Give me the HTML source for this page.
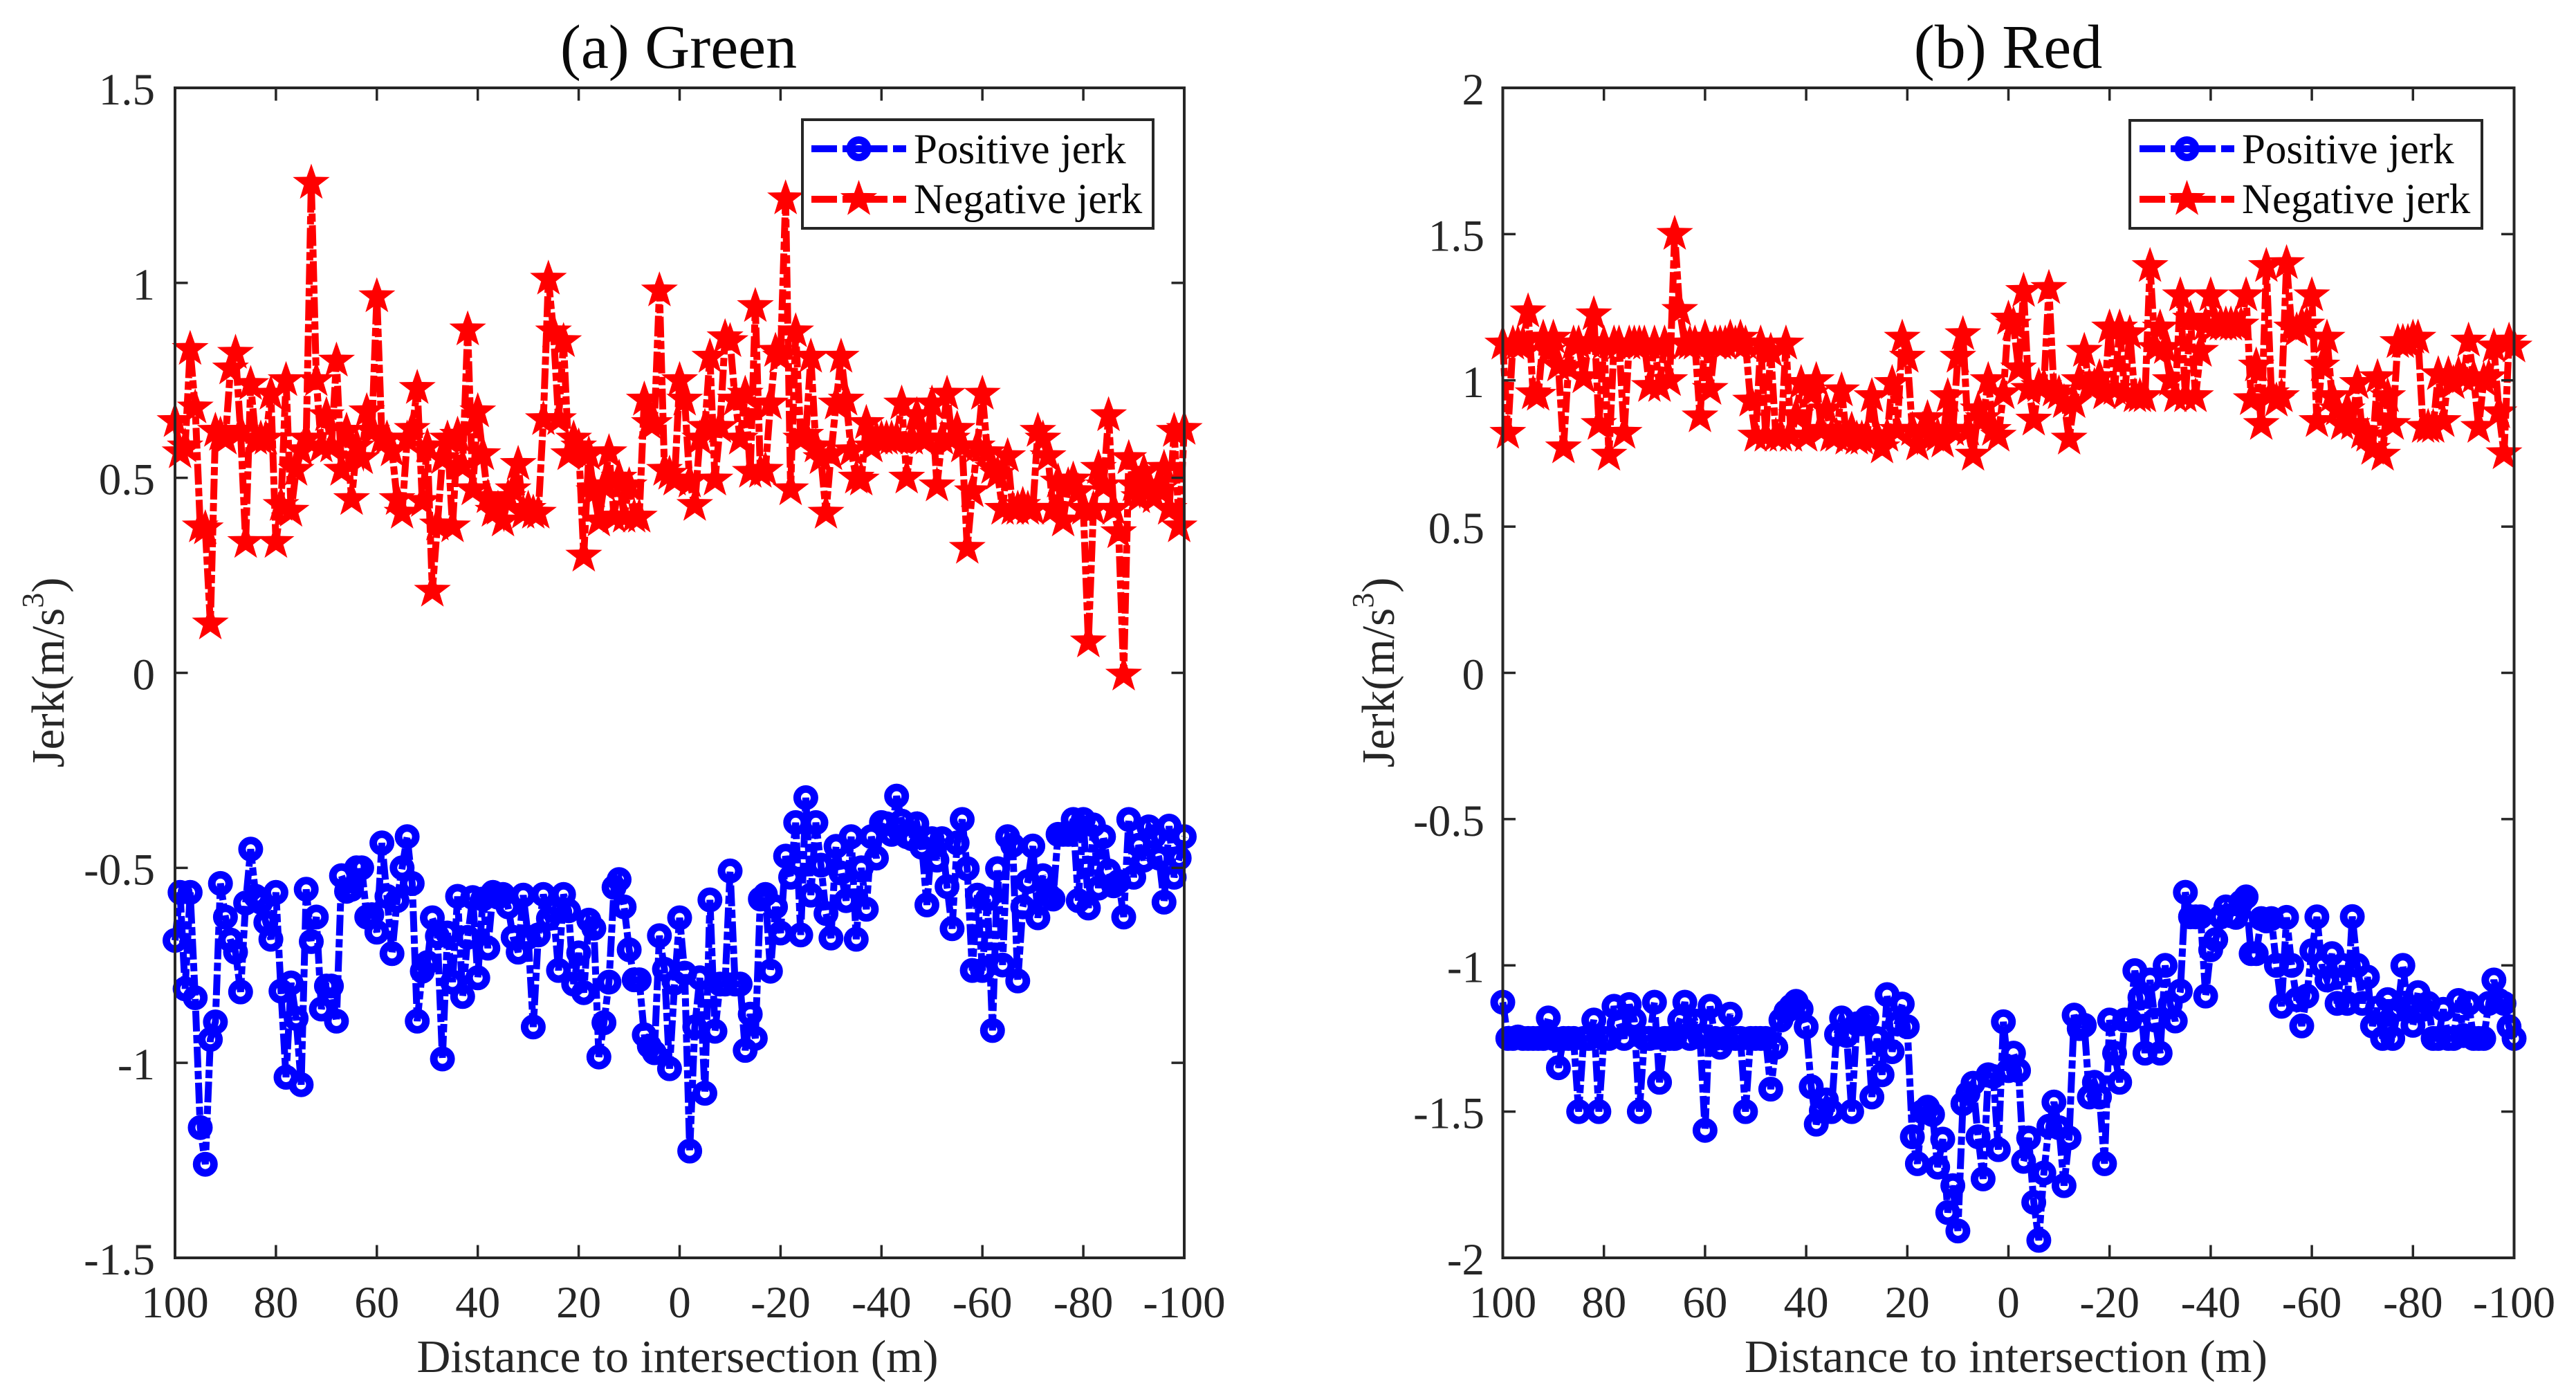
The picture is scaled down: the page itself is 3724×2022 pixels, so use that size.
<!DOCTYPE html>
<html lang="en">
<head>
<meta charset="utf-8">
<title>Jerk vs distance to intersection</title>
<style>
html,body{margin:0;padding:0;background:#fff;}
svg{display:block;font-family:"Liberation Serif","Times New Roman",serif;}
.tick-label{font-size:65px;fill:#262626;}
.axis-title{font-size:67px;fill:#262626;}
.panel-title{font-size:90px;fill:#0a0a0a;text-anchor:middle;}
.legend-text{font-size:61px;fill:#0a0a0a;}
</style>
</head>
<body>
<svg id="chart" xmlns="http://www.w3.org/2000/svg" width="3724" height="2022" viewBox="0 0 3724 2022">
  <rect x="0" y="0" width="3724" height="2022" fill="#ffffff"/>

  <g id="panel-a">
    <text class="panel-title" x="981" y="98">(a) Green</text>
    <g id="series-a"></g>
    <rect x="253" y="127" width="1459" height="1691" fill="none" stroke="#262626" stroke-width="4"/>
    <g id="ticks-a"></g>
    <text class="axis-title" x="979.5" y="1983" text-anchor="middle" textLength="754" lengthAdjust="spacingAndGlyphs">Distance to intersection (m)</text>
    <text class="axis-title" transform="translate(92 972) rotate(-90)" text-anchor="middle">Jerk(m/s<tspan font-size="44" dy="-30">3</tspan><tspan dy="30">)</tspan></text>
    <g id="legend-a">
      <rect x="1160" y="173" width="507" height="157" fill="#ffffff" stroke="#262626" stroke-width="4"/>
      <text class="legend-text" x="1321" y="236">Positive jerk</text>
      <text class="legend-text" x="1321" y="308">Negative jerk</text>
    </g>
  </g>

  <g id="panel-b">
    <text class="panel-title" x="2903" y="98">(b) Red</text>
    <g id="series-b"></g>
    <rect x="2172.5" y="127" width="1462" height="1691" fill="none" stroke="#262626" stroke-width="4"/>
    <g id="ticks-b"></g>
    <text class="axis-title" x="2900" y="1983" text-anchor="middle" textLength="756" lengthAdjust="spacingAndGlyphs">Distance to intersection (m)</text>
    <text class="axis-title" transform="translate(2015 972) rotate(-90)" text-anchor="middle">Jerk(m/s<tspan font-size="44" dy="-30">3</tspan><tspan dy="30">)</tspan></text>
    <g id="legend-b">
      <rect x="3079" y="174" width="509" height="156" fill="#ffffff" stroke="#262626" stroke-width="4"/>
      <text class="legend-text" x="3241" y="236">Positive jerk</text>
      <text class="legend-text" x="3241" y="308">Negative jerk</text>
    </g>
  </g>
</svg>

<script>
const distances = [
100,99,98,97,96,95,94,93,92,91,
90,89,88,87,86,85,84,83,82,81,
80,79,78,77,76,75,74,73,72,71,
70,69,68,67,66,65,64,63,62,61,
60,59,58,57,56,55,54,53,52,51,
50,49,48,47,46,45,44,43,42,41,
40,39,38,37,36,35,34,33,32,31,
30,29,28,27,26,25,24,23,22,21,
20,19,18,17,16,15,14,13,12,11,
10,9,8,7,6,5,4,3,2,1,
0,
-1,-2,-3,-4,-5,-6,-7,-8,-9,-10,
-11,-12,-13,-14,-15,-16,-17,-18,-19,-20,
-21,-22,-23,-24,-25,-26,-27,-28,-29,-30,
-31,-32,-33,-34,-35,-36,-37,-38,-39,-40,
-41,-42,-43,-44,-45,-46,-47,-48,-49,-50,
-51,-52,-53,-54,-55,-56,-57,-58,-59,-60,
-61,-62,-63,-64,-65,-66,-67,-68,-69,-70,
-71,-72,-73,-74,-75,-76,-77,-78,-79,-80,
-81,-82,-83,-84,-85,-86,-87,-88,-89,-90,
-91,-92,-93,-94,-95,-96,-97,-98,-99,-100];

const greenPositiveJerk = [
-.686,-.563,-.81,-.563,-.833,-1.166,-1.26,-.94,-.895,-.54,
-.626,-.685,-.716,-.818,-.59,-.452,-.573,-.588,-.64,-.683,
-.563,-.816,-1.037,-.795,-.886,-1.056,-.555,-.689,-.626,-.862,
-.803,-.803,-.893,-.52,-.56,-.555,-.50,-.50,-.626,-.62,
-.665,-.436,-.573,-.72,-.584,-.50,-.42,-.54,-.893,-.765,
-.743,-.628,-.675,-.99,-.667,-.793,-.573,-.83,-.678,-.576,
-.782,-.58,-.706,-.563,-.575,-.568,-.60,-.678,-.716,-.57,
-.678,-.908,-.672,-.568,-.63,-.61,-.763,-.568,-.61,-.798,
-.718,-.82,-.634,-.655,-.985,-.897,-.793,-.55,-.53,-.6,
-.71,-.787,-.787,-.928,-.957,-.974,-.674,-.76,-1.015,-.795,
-.628,
-.77,-1.226,-.908,-.782,-1.078,-.582,-.919,-.798,-.798,-.508,
-.798,-.798,-.968,-.875,-.937,-.58,-.568,-.765,-.60,-.667,
-.47,-.524,-.384,-.672,-.32,-.57,-.384,-.493,-.617,-.68,
-.445,-.513,-.584,-.42,-.683,-.50,-.606,-.42,-.475,-.384,
-.387,-.414,-.316,-.38,-.42,-.425,-.387,-.447,-.595,-.425,
-.48,-.425,-.548,-.656,-.436,-.376,-.502,-.763,-.57,-.763,
-.58,-.917,-.502,-.749,-.42,-.442,-.79,-.6,-.535,-.444,
-.628,-.52,-.568,-.58,-.414,-.414,-.414,-.376,-.584,-.376,
-.603,-.39,-.552,-.42,-.508,-.546,-.535,-.626,-.376,-.524,
-.442,-.48,-.395,-.42,-.475,-.588,-.393,-.524,-.475,-.42];

const greenNegativeJerk = [
.645,.565,.58,.83,.68,.375,.37,.126,.62,.61,
.60,.78,.82,.62,.335,.74,.6,.6,.6,.715,
.335,.43,.75,.415,.52,.57,.6,1.256,.75,.58,
.66,.58,.8,.52,.62,.445,.58,.55,.67,.62,
.965,.6,.6,.57,.445,.41,.6,.625,.73,.44,
.58,.21,.38,.55,.6,.375,.61,.53,.88,.47,
.67,.56,.45,.415,.42,.39,.45,.47,.535,.41,
.42,.41,.41,.65,1.01,.875,.65,.85,.56,.6,
.58,.30,.56,.465,.39,.48,.565,.4,.5,.4,
.48,.4,.4,.70,.64,.64,.98,.52,.51,.495,
.75,
.70,.49,.43,.6,.63,.81,.495,.63,.86,.85,
.70,.6,.715,.515,.94,.515,.52,.69,.825,.81,
1.216,.47,.875,.6,.61,.81,.58,.55,.41,.56,
.69,.81,.70,.57,.5,.495,.64,.58,.6,.6,
.6,.6,.6,.69,.50,.6,.66,.6,.6,.69,
.48,.6,.715,.6,.625,.58,.32,.465,.58,.715,
.565,.525,.51,.42,.555,.42,.42,.43,.42,.42,
.62,.6,.555,.42,.49,.39,.48,.495,.465,.42,
.08,.42,.525,.48,.66,.42,.36,-.005,.55,.48,
.45,.515,.48,.45,.47,.525,.42,.62,.375,.625];

const redPositiveJerk = [
-1.126,-1.25,-1.25,-1.245,-1.25,-1.25,-1.25,-1.25,-1.25,-1.18,
-1.25,-1.35,-1.25,-1.25,-1.25,-1.5,-1.25,-1.25,-1.187,-1.5,
-1.25,-1.25,-1.14,-1.2,-1.25,-1.134,-1.187,-1.5,-1.25,-1.25,
-1.126,-1.4,-1.25,-1.25,-1.25,-1.187,-1.126,-1.25,-1.19,-1.245,
-1.564,-1.14,-1.25,-1.28,-1.25,-1.167,-1.25,-1.25,-1.5,-1.25,
-1.25,-1.25,-1.25,-1.423,-1.28,-1.187,-1.158,-1.14,-1.123,-1.15,
-1.21,-1.415,-1.543,-1.497,-1.46,-1.5,-1.236,-1.18,-1.24,-1.5,
-1.2,-1.2,-1.18,-1.45,-1.25,-1.374,-1.1,-1.295,-1.2,-1.132,
-1.21,-1.586,-1.678,-1.5,-1.485,-1.51,-1.69,-1.594,-1.845,-1.753,
-1.908,-1.473,-1.438,-1.403,-1.586,-1.73,-1.374,-1.38,-1.63,-1.193,
-1.36,
-1.3,-1.36,-1.67,-1.59,-1.81,-1.94,-1.71,-1.55,-1.467,-1.555,
-1.753,-1.59,-1.17,-1.216,-1.205,-1.45,-1.40,-1.45,-1.678,-1.187,
-1.30,-1.40,-1.187,-1.187,-1.018,-1.11,-1.30,-1.05,-1.187,-1.30,
-1.0,-1.134,-1.19,-1.088,-.75,-.834,-.834,-.834,-1.105,-.947,
-.912,-.834,-.80,-.83,-.836,-.784,-.766,-.96,-.96,-.84,
-.848,-.84,-1.0,-1.14,-.836,-1.0,-1.117,-1.207,-1.105,-.95,
-.834,-1.0,-1.05,-.96,-1.13,-1.0,-1.13,-.833,-1.0,-1.13,
-1.04,-1.207,-1.146,-1.25,-1.117,-1.25,-1.15,-1.0,-1.146,-1.205,
-1.093,-1.15,-1.13,-1.25,-1.25,-1.15,-1.25,-1.25,-1.12,-1.24,
-1.13,-1.25,-1.25,-1.25,-1.13,-1.05,-1.12,-1.13,-1.21,-1.25];

const redNegativeJerk = [
1.125,.82,1.125,1.125,1.125,1.235,.955,.95,1.145,1.1,
1.145,1.05,.77,1.045,1.125,1.125,1.01,1.13,1.225,.85,
1.125,.745,1.125,1.125,.82,1.125,1.125,1.125,1.125,.98,
1.125,.98,1.125,1.0,1.5,1.24,1.125,1.125,1.125,.876,
1.145,.97,1.125,1.125,1.125,1.145,1.125,1.145,1.125,.93,
.81,1.125,.81,1.1,.81,.81,1.125,.81,.88,.99,
.81,.955,1.0,.83,.90,.81,.81,.965,.8,.83,
.8,.8,.81,.945,.81,.77,.81,.99,.83,1.145,
1.08,.83,.78,.83,.87,.81,.81,.79,.945,.83,
1.08,1.157,.83,.745,.90,.87,1.0,.83,.81,.955,
1.21,
1.19,1.04,1.305,.97,.865,.98,.98,1.315,.965,.955,
.925,.80,.925,1.0,1.1,.98,.98,1.01,.955,1.18,
.97,1.18,.955,1.16,.945,.945,.945,1.39,1.11,1.18,
1.11,1.0,.945,1.29,.945,1.21,.945,1.1,1.19,1.29,
1.19,1.19,1.19,1.19,1.19,1.19,1.29,.935,1.05,.85,
1.39,.955,.93,.945,1.40,1.18,1.17,1.19,1.19,1.29,
.86,1.05,1.145,.945,.9,.85,.9,.85,.99,.82,
.81,.765,1.01,.745,.945,.85,1.13,1.13,1.13,1.145,
1.145,.84,.84,.84,1.02,.86,1.02,.99,1.02,1.01,
1.135,1.01,.84,1.0,1.01,1.115,.89,.75,1.135,1.115];

const xTickValues = [100,80,60,40,20,0,-20,-40,-60,-80,-100];
const greenYTicks = [1.5,1,0.5,0,-0.5,-1,-1.5];
const redYTicks = [2,1.5,1,0.5,0,-0.5,-1,-1.5,-2];

const SVG_NS = 'http://www.w3.org/2000/svg';

function make(tag, attrs, parent) {
  const el = document.createElementNS(SVG_NS, tag);
  for (const k in attrs) el.setAttribute(k, attrs[k]);
  parent.appendChild(el);
  return el;
}

function makeXScale(left, right) {
  return d => left + (100 - d) / 200 * (right - left);
}
function makeYScale(top, bottom, max, min) {
  return v => top + (max - v) / (max - min) * (bottom - top);
}

function starPoints(cx, cy, R) {
  const pts = [];
  const r = R * 0.4;
  for (let i = 0; i < 10; i++) {
    const rad = i % 2 === 0 ? R : r;
    const a = -Math.PI / 2 + i * Math.PI / 5;
    pts.push((cx + rad * Math.cos(a)).toFixed(1) + ',' + (cy + rad * Math.sin(a)).toFixed(1));
  }
  return pts.join(' ');
}

function drawSeries(parent, values, x, y, color, kind) {
  const pts = values.map((v, i) => x(distances[i]).toFixed(1) + ',' + y(v).toFixed(1)).join(' ');
  const line = make('polyline', {
    points: pts, fill: 'none', stroke: color, 'stroke-width': 10,
    'stroke-dasharray': '30 5 12 5', 'stroke-linejoin': 'miter'
  }, parent);
  
  
  values.forEach((v, i) => {
    if (kind === 'circle') {
      const c = make('circle', {
        cx: x(distances[i]).toFixed(1), cy: y(v).toFixed(1), r: 12.5,
        fill: 'none', stroke: color, 'stroke-width': 11
      }, parent);
      
      
    } else {
      const s = make('polygon', {
        points: starPoints(x(distances[i]), y(v), 28), fill: color
      }, parent);
      
      
    }
  });
}

function drawTicks(parent, x, y, yTicks, left, right, top, bottom, labelRight) {
  const tickLen = 18.5;
  xTickValues.forEach(t => {
    const px = x(t);
    if (t !== 100 && t !== -100) {
      const a = make('line', {x1: px, x2: px, y1: top, y2: top + tickLen, stroke: '#262626', 'stroke-width': 3.5}, parent);
      
      
      const b = make('line', {x1: px, x2: px, y1: bottom, y2: bottom - tickLen, stroke: '#262626', 'stroke-width': 3.5}, parent);
      
      
    }
    const lab = make('text', {x: px, y: 1904, 'text-anchor': 'middle', class: 'tick-label'}, parent);
    
    
    lab.textContent = String(t);
  });
  yTicks.forEach(t => {
    const py = y(t);
    if (py > top + 1 && py < bottom - 1) {
      const a = make('line', {x1: left, x2: left + tickLen, y1: py, y2: py, stroke: '#262626', 'stroke-width': 3.5}, parent);
      
      
      const b = make('line', {x1: right, x2: right - tickLen, y1: py, y2: py, stroke: '#262626', 'stroke-width': 3.5}, parent);
      
      
    }
    const lab = make('text', {x: labelRight, y: py + 24, 'text-anchor': 'end', class: 'tick-label'}, parent);
    
    
    lab.textContent = String(t);
  });
}

function drawLegendKey(parent, x1, x2, y1, y2) {
  const mid = (x1 + x2) / 2;
  const dash = '37 8 65 8 19';
  const l1 = make('line', {x1: x1, x2: x2, y1: y1, y2: y1, stroke: '#0000ff', 'stroke-width': 10, 'stroke-dasharray': dash}, parent);
  
  
  const c = make('circle', {cx: mid, cy: y1, r: 12.5, fill: 'none', stroke: '#0000ff', 'stroke-width': 11}, parent);
  
  
  const l2 = make('line', {x1: x1, x2: x2, y1: y2, y2: y2, stroke: '#ff0000', 'stroke-width': 10, 'stroke-dasharray': dash}, parent);
  
  
  const s = make('polygon', {points: starPoints(mid, y2, 28), fill: '#ff0000'}, parent);
  
  
}

/* Panel (a) Green */
const xA = makeXScale(253, 1712);
const yA = makeYScale(127, 1818, 1.5, -1.5);
const seriesA = document.getElementById('series-a');
drawSeries(seriesA, greenPositiveJerk, xA, yA, '#0000ff', 'circle');
drawSeries(seriesA, greenNegativeJerk, xA, yA, '#ff0000', 'star');
drawTicks(document.getElementById('ticks-a'), xA, yA, greenYTicks, 253, 1712, 127, 1818, 224);
drawLegendKey(document.getElementById('legend-a'), 1173, 1310, 215, 288);

/* Panel (b) Red */
const xB = makeXScale(2172.5, 3634.5);
const yB = makeYScale(127, 1818, 2, -2);
const seriesB = document.getElementById('series-b');
drawSeries(seriesB, redPositiveJerk, xB, yB, '#0000ff', 'circle');
drawSeries(seriesB, redNegativeJerk, xB, yB, '#ff0000', 'star');
drawTicks(document.getElementById('ticks-b'), xB, yB, redYTicks, 2172.5, 3634.5, 127, 1818, 2146);
drawLegendKey(document.getElementById('legend-b'), 3093, 3230, 215, 288);
</script>
</body>
</html>
